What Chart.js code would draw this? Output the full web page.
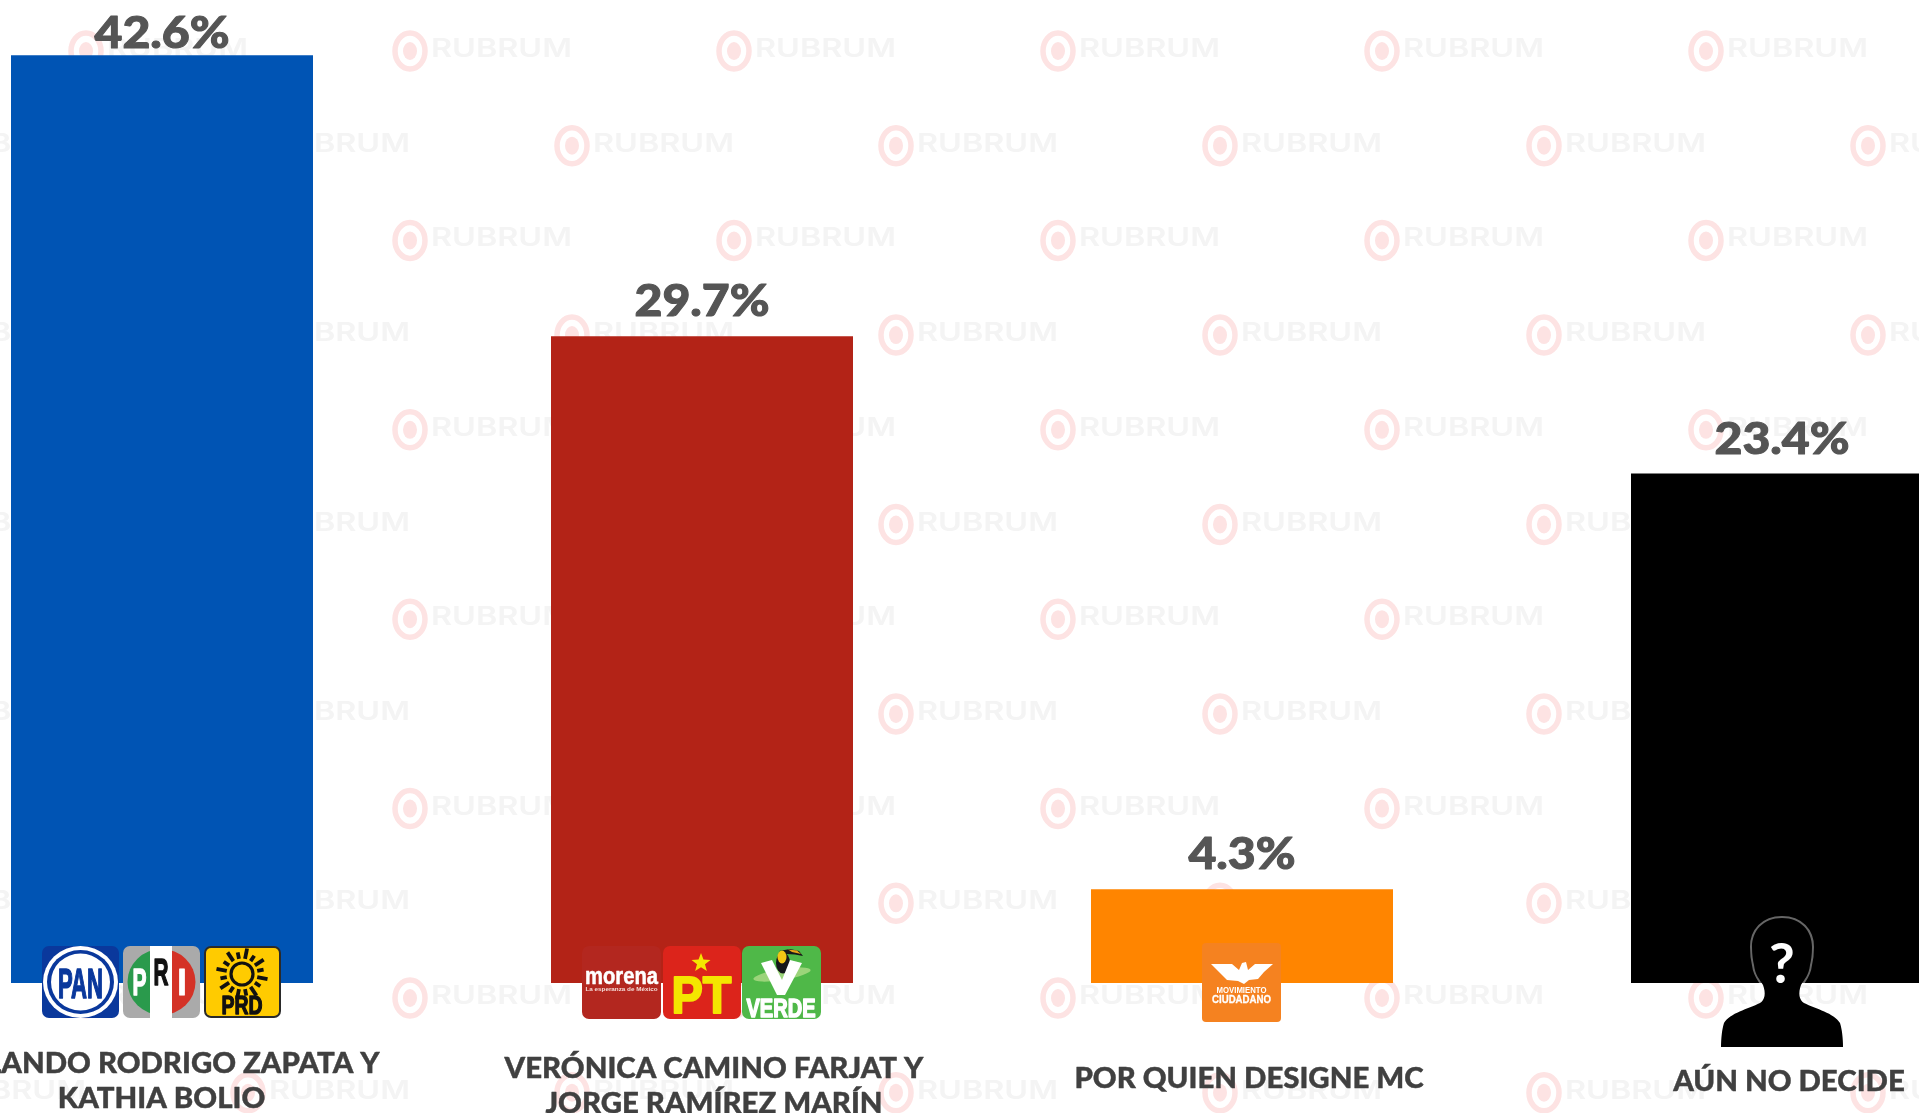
<!DOCTYPE html>
<html lang="es">
<head>
<meta charset="utf-8">
<title>Preferencia electoral</title>
<script src="https://cdn.jsdelivr.net/npm/chart.js@4"></script>
<style>
html,body{margin:0;padding:0;background:#fff;width:1919px;height:1113px;overflow:hidden}
#wrap{position:absolute;left:0;top:0;width:1919px;height:1113px;overflow:hidden}
#c{position:absolute;left:-108px;top:0}
</style>
</head>
<body>
<div id="wrap"><canvas id="c" width="2160" height="1113"></canvas></div>
<script>
const categories = [
  ["ROLANDO RODRIGO ZAPATA Y", "KATHIA BOLIO"],
  ["VERÓNICA CAMINO FARJAT Y", "JORGE RAMÍREZ MARÍN"],
  ["POR QUIEN DESIGNE MC"],
  ["AÚN NO DECIDE"]
];
const values = [42.6, 29.7, 4.3, 23.4];
const barColors = ["#0054b4", "#b32317", "#ff8500", "#000000"];

// label placement, relative to each bar's centre and the zero line
const labelDx = [-0.5, 12, 7, 7];
const labelDy = [90, 95, 105, 108];
const valueGap = [7, 20, 20, 19];
const LABEL_FONT = '900 28px Lato, "Open Sans", sans-serif';
const VALUE_FONT = '900 43px Lato, "Open Sans", sans-serif';

function rr(ctx, x, y, w, h, r, fill) {
  ctx.beginPath(); ctx.roundRect(x, y, w, h, r); ctx.fillStyle = fill; ctx.fill();
}
function stretched(ctx, text, cx, base, font, sx, color, stroke) {
  ctx.save();
  ctx.font = font; ctx.textAlign = 'center'; ctx.textBaseline = 'alphabetic'; ctx.fillStyle = color;
  ctx.translate(cx, base); ctx.scale(sx, 1); ctx.fillText(text, 0, 0);
  if (stroke) { ctx.strokeStyle = color; ctx.lineWidth = stroke; ctx.lineJoin = 'round'; ctx.strokeText(text, 0, 0); }
  ctx.restore();
}
function fitText(ctx, text, cx, base, font, width, color, stroke) {
  ctx.save(); ctx.font = font;
  const m = ctx.measureText(text).width;
  ctx.restore();
  stretched(ctx, text, cx, base, font, width / m, color, stroke);
}
function poly(ctx, pts, fill) {
  ctx.beginPath();
  pts.forEach((p, i) => i ? ctx.lineTo(p[0], p[1]) : ctx.moveTo(p[0], p[1]));
  ctx.closePath(); ctx.fillStyle = fill; ctx.fill();
}
function ell(ctx, x, y, rx, ry, fill, rot) {
  ctx.beginPath(); ctx.ellipse(x, y, rx, ry, rot || 0, 0, Math.PI * 2); ctx.fillStyle = fill; ctx.fill();
}

function logoPAN(ctx, x, y) {
  ctx.save(); ctx.translate(x, y);
  rr(ctx, 0, 0, 77, 72, 7, '#0a389c');
  ell(ctx, 38.5, 36, 37.5, 36, '#fff');
  ell(ctx, 38.5, 36, 33.5, 32, '#0a389c');
  ell(ctx, 38.5, 36, 29.5, 28.5, '#fff');
  fitText(ctx, 'PAN', 38.5, 51.5, 'bold 43px "Liberation Sans", sans-serif', 45, '#0a389c', 1.6);
  ctx.restore();
}
function logoPRI(ctx, x, y) {
  ctx.save(); ctx.translate(x, y);
  rr(ctx, 0, 0, 77, 72, 7, '#aaaaaa');
  ctx.save(); ctx.beginPath(); ctx.ellipse(38.5, 36, 34, 33, 0, 0, Math.PI * 2); ctx.clip();
  ctx.fillStyle = '#2a9a4c'; ctx.fillRect(0, 0, 28, 72);
  ctx.fillStyle = '#d43226'; ctx.fillRect(49, 0, 28, 72);
  ctx.restore();
  ctx.fillStyle = '#ffffff'; ctx.fillRect(27, 0, 22, 72);
  fitText(ctx, 'P', 16.5, 49, 'bold 36px "Liberation Sans", sans-serif', 14, '#fff', 1.5);
  fitText(ctx, 'R', 38, 39, 'bold 36px "Liberation Sans", sans-serif', 15, '#111', 1.5);
  fitText(ctx, 'I', 59, 49, 'bold 36px "Liberation Sans", sans-serif', 9, '#fff', 1);
  ctx.restore();
}
function logoPRD(ctx, x, y) {
  ctx.save(); ctx.translate(x, y);
  rr(ctx, 0, 0, 77, 72, 7, '#2a2a2a');
  rr(ctx, 2, 2, 73, 68, 5, '#ffcb00');
  const sx = 38, sy = 28;
  ctx.strokeStyle = '#111'; ctx.lineWidth = 3.2;
  ctx.beginPath(); ctx.arc(sx, sy, 11, 0, Math.PI * 2); ctx.stroke();
  for (let i = 0; i < 16; i++) {
    const a = i * Math.PI / 8 + Math.PI / 16;
    const r2 = i % 2 ? 22 : 26;
    ctx.lineWidth = 3.8;
    ctx.beginPath();
    ctx.moveTo(sx + Math.cos(a) * 15.5, sy + Math.sin(a) * 15.5);
    ctx.lineTo(sx + Math.cos(a) * r2, sy + Math.sin(a) * r2);
    ctx.stroke();
  }
  fitText(ctx, 'PRD', 38, 68, 'bold 25px "Liberation Sans", sans-serif', 41, '#111', 1.3);
  ctx.restore();
}
function logoMorena(ctx, x, y) {
  ctx.save(); ctx.translate(x, y);
  rr(ctx, 0, 0, 79, 73, 7, '#b3271f');
  fitText(ctx, 'morena', 39.5, 38, 'bold 23px "Liberation Sans", sans-serif', 73, '#fff', 0.5);
  fitText(ctx, 'La esperanza de México', 39.5, 45, 'bold 6px "Liberation Sans", sans-serif', 72, '#f6dcd8');
  ctx.restore();
}
function logoPT(ctx, x, y) {
  ctx.save(); ctx.translate(x, y);
  rr(ctx, 0, 0, 78, 73, 7, '#dc241b');
  const pts = [];
  for (let i = 0; i < 10; i++) {
    const a = -Math.PI / 2 + i * Math.PI / 5, r = i % 2 ? 4.2 : 10;
    pts.push([38 + Math.cos(a) * r, 17 + Math.sin(a) * r]);
  }
  poly(ctx, pts, '#f4e600');
  fitText(ctx, 'PT', 38.5, 67, 'bold 52px "Liberation Sans", sans-serif', 60, '#f4e600', 2);
  ctx.restore();
}
function logoVerde(ctx, x, y) {
  ctx.save(); ctx.translate(x, y);
  rr(ctx, 0, 0, 79, 73, 7, '#4fb848');
  ell(ctx, 40, 28.5, 29, 5.5, '#9bd47a', -0.16);
  poly(ctx, [[37, 5], [48, 3], [57, 5], [61, 10], [53, 8.5], [44, 8]], '#17171a');
  poly(ctx, [[46, 3.5], [55, 4.5], [59, 8], [50, 6]], '#e8a418');
  ell(ctx, 41, 17, 7, 10.5, '#16161a');
  ell(ctx, 40, 11, 4.5, 6.5, '#f3c515');
  poly(ctx, [[19, 17], [30, 14], [40, 34], [48, 14], [60, 17], [43, 49], [35, 49]], '#fff');
  fitText(ctx, 'VERDE', 39, 71, 'bold 25px "Liberation Sans", sans-serif', 69, '#fff', 1.5);
  ctx.restore();
}
function logoMC(ctx, x, y) {
  ctx.save(); ctx.translate(x, y);
  rr(ctx, 0, 0, 79, 79, 4, '#f58220');
  const W = '#fff';
  poly(ctx, [[9, 21], [30, 21], [37, 27], [40, 20], [44, 19], [46, 27], [53, 21], [71, 21], [62, 29], [56, 36], [47, 37], [42, 41], [36, 38], [25, 37], [17, 29]], W);
  fitText(ctx, 'MOVIMIENTO', 39.5, 50, 'bold 8.5px "Liberation Sans", sans-serif', 50, W);
  fitText(ctx, 'CIUDADANO', 39.5, 60, 'bold 11px "Liberation Sans", sans-serif', 59, W, 0.3);
  ctx.restore();
}
function silhouette(ctx, x, base) {
  // coordinates relative to the bar centre and the zero line
  ctx.save(); ctx.translate(x, base);
  const path = () => {
    ctx.beginPath();
    ctx.moveTo(0, -65);
    ctx.bezierCurveTo(19, -65, 30, -52, 30, -36);
    ctx.bezierCurveTo(30, -28, 29, -22, 28, -18);
    ctx.bezierCurveTo(27, -8, 22, -3, 19, 2);
    ctx.bezierCurveTo(16, 10, 17, 17, 22, 20);
    ctx.bezierCurveTo(34, 26, 52, 30, 58, 40);
    ctx.bezierCurveTo(60, 46, 61, 56, 61, 64);
    ctx.lineTo(-61, 64);
    ctx.bezierCurveTo(-61, 56, -60, 46, -58, 40);
    ctx.bezierCurveTo(-52, 30, -34, 26, -22, 20);
    ctx.bezierCurveTo(-17, 17, -16, 10, -19, 2);
    ctx.bezierCurveTo(-22, -3, -27, -8, -28, -18);
    ctx.bezierCurveTo(-29, -22, -30, -28, -30, -36);
    ctx.bezierCurveTo(-30, -52, -19, -65, 0, -65);
    ctx.closePath();
  };
  ctx.save();
  ctx.beginPath(); ctx.rect(-80, -80, 160, 80); ctx.clip();
  path(); ctx.strokeStyle = '#666666'; ctx.lineWidth = 4; ctx.stroke();
  ctx.restore();
  path(); ctx.fillStyle = '#000'; ctx.fill();
  ctx.fillStyle = '#fff'; ctx.font = '700 56px Lato, sans-serif';
  ctx.textAlign = 'center'; ctx.textBaseline = 'alphabetic';
  ctx.fillText('?', 0, 0);
  ctx.restore();
}

const watermark = {
  id: 'watermark',
  beforeDatasetsDraw(chart) {
    const ctx = chart.ctx;
    const offsetX = 108; // the canvas starts 108px left of the page
    ctx.save();
    for (let k = 0; k < 12; k++) {
      const y = 51 + k * 94.7;
      const start = k % 2 ? 248 - 324 : 86 - 324;
      for (let x = start; x < 2000; x += 324) {
        const cx = x + offsetX;
        ctx.strokeStyle = '#fde3e3'; ctx.lineWidth = 5.5;
        ctx.beginPath(); ctx.ellipse(cx, y, 15, 18, 0, 0, Math.PI * 2); ctx.stroke();
        ell(ctx, cx, y, 7, 9, '#fde3e3');
        fitText(ctx, 'RUBRUM', cx + 91.5, y + 6, '600 26px Inter, sans-serif', 141, '#f4f4f4');
      }
    }
    ctx.restore();
  }
};

const decorations = {
  id: 'decorations',
  afterDatasetsDraw(chart) {
    const ctx = chart.ctx, xs = chart.scales.x, ys = chart.scales.y;
    const zero = ys.getPixelForValue(0);
    const cx = i => xs.getPixelForValue(i);
    ctx.save();
    // value labels
    values.forEach((v, i) => {
      stretched(ctx, v.toFixed(1) + '%', cx(i), ys.getPixelForValue(v) - valueGap[i], VALUE_FONT, 1.12, '#555555', 1);
    });
    // party logos
    logoPAN(ctx, cx(0) - 120, zero - 37);
    logoPRI(ctx, cx(0) - 39, zero - 37);
    logoPRD(ctx, cx(0) + 42, zero - 37);
    logoMorena(ctx, cx(1) - 120, zero - 37);
    logoPT(ctx, cx(1) - 39, zero - 37);
    logoVerde(ctx, cx(1) + 40, zero - 37);
    logoMC(ctx, cx(2) - 40, zero - 40);
    silhouette(ctx, cx(3), zero);
    // category labels
    categories.forEach((lines, i) => {
      lines.forEach((t, j) => {
        stretched(ctx, t, cx(i) + labelDx[i], zero + labelDy[i] + j * 35, LABEL_FONT, 1.05, '#404040', 0.4);
      });
    });
    ctx.restore();
  }
};

new Chart(document.getElementById('c'), {
  type: 'bar',
  data: {
    labels: categories.map(l => l.join(' ')),
    datasets: [{ data: values, backgroundColor: barColors, borderWidth: 0, categoryPercentage: 1, barPercentage: 302 / 540 }]
  },
  options: {
    responsive: false,
    animation: false,
    devicePixelRatio: 1,
    layout: { padding: { top: 3, bottom: 130, left: 0, right: 0 } },
    plugins: { legend: { display: false }, tooltip: { enabled: false }, title: { display: false } },
    scales: {
      x: { display: false },
      y: { display: false, min: 0, max: 45 }
    }
  },
  plugins: [watermark, decorations]
});
</script>
</body>
</html>
